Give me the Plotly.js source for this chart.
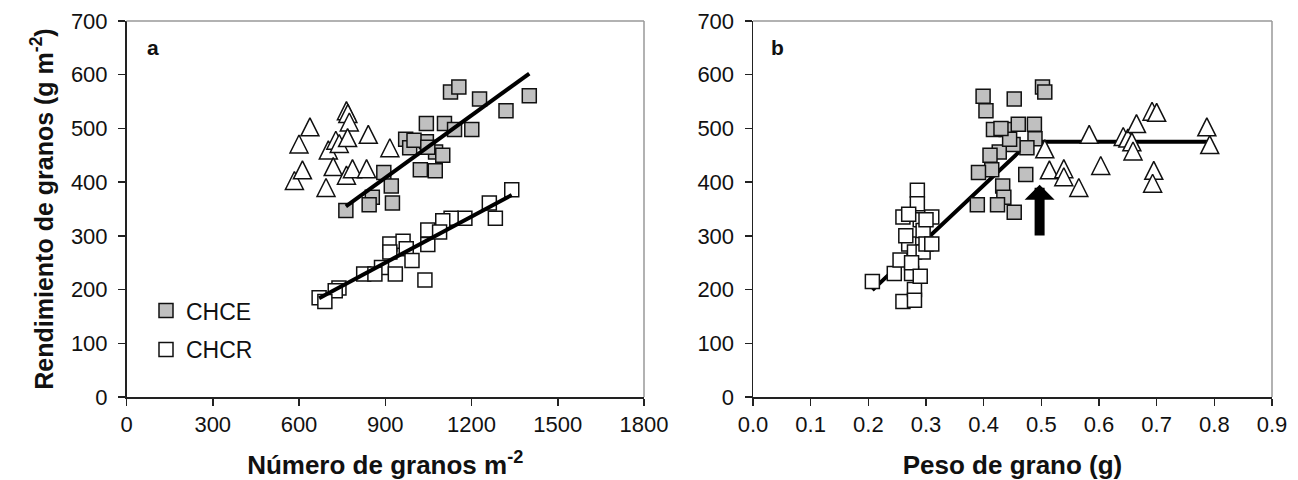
<!DOCTYPE html>
<html><head><meta charset="utf-8">
<script src="https://cdn.plot.ly/plotly-3.0.1.min.js"></script>
<style>body{margin:0;background:#fff}#c{width:1298px;height:480px}</style>
</head><body><div id="c"></div><script>
// ---------- Panel a: Número de granos m-2 vs rendimiento ----------
var a_chce_x = [1127, 1156, 1228, 1401, 1320, 1043, 1106, 1141, 1201, 971, 985, 1043, 1075, 1100, 895, 921, 1022, 1074, 855, 844, 925, 763, 1000, 1048];
var a_chce_y = [568, 577, 555, 561, 533, 509, 509, 498, 498, 480, 464, 475, 456, 450, 418, 393, 423, 421, 372, 358, 361, 347, 478, 465];
var a_chcr_x = [1340, 1262, 1283, 1177, 1129, 1100, 1048, 1048, 1089, 916, 962, 973, 916, 993, 887, 935, 825, 864, 1038, 739, 726, 670, 690];
var a_chcr_y = [386, 361, 333, 333, 333, 328, 311, 284, 307, 285, 290, 276, 270, 254, 241, 229, 229, 229, 218, 203, 198, 185, 178];
var a_tri_x = [584, 600, 612, 638, 694, 702, 719, 728, 740, 765, 765, 770, 775, 769, 786, 835, 841, 916];
var a_tri_y = [403, 471, 423, 503, 390, 460, 429, 478, 472, 413, 533, 528, 512, 483, 425, 425, 489, 464];
var a_fit_chce_x = [763, 1401];
var a_fit_chce_y = [355, 602];
var a_fit_chcr_x = [670, 1340];
var a_fit_chcr_y = [184, 376];

// ---------- Panel b: Peso de grano vs rendimiento ----------
var b_chce_x = [0.399, 0.404, 0.453, 0.502, 0.506, 0.417, 0.439, 0.460, 0.488, 0.489, 0.475, 0.451, 0.427, 0.411, 0.414, 0.391, 0.473, 0.433, 0.435, 0.389, 0.424, 0.453, 0.445, 0.430];
var b_chce_y = [560, 533, 555, 577, 568, 498, 498, 508, 508, 481, 464, 470, 456, 450, 423, 418, 414, 393, 372, 358, 358, 344, 480, 500];
var b_chcr_x = [0.207, 0.245, 0.255, 0.260, 0.260, 0.270, 0.275, 0.280, 0.280, 0.285, 0.285, 0.290, 0.295, 0.295, 0.300, 0.310, 0.310, 0.275, 0.280, 0.265, 0.290, 0.270, 0.300];
var b_chcr_y = [215, 230, 255, 335, 178, 285, 230, 200, 270, 385, 360, 330, 310, 270, 285, 335, 285, 250, 180, 300, 225, 340, 330];
var b_tri_x = [0.506, 0.514, 0.539, 0.539, 0.565, 0.583, 0.603, 0.642, 0.650, 0.657, 0.659, 0.665, 0.695, 0.693, 0.787, 0.792, 0.692, 0.700];
var b_tri_y = [462, 423, 425, 410, 390, 489, 431, 485, 482, 475, 458, 509, 422, 398, 503, 470, 532, 530];
var b_fit_x = [0.207, 0.48, 0.79];
var b_fit_y = [199, 475, 475];
var arrow_x = 0.497, arrow_tail = 298, arrow_tip = 395;

var xTicksA = [0, 300, 600, 900, 1200, 1500, 1800];
var xTicksB = [0.0, 0.1, 0.2, 0.3, 0.4, 0.5, 0.6, 0.7, 0.8, 0.9];
var yTicks = [0, 100, 200, 300, 400, 500, 600, 700];

var FONT = 'Liberation Sans, Arial, sans-serif';
var GRAY = '#c0c0c0';
var SQ = 14, TRI = 18;
var plotH = 376;
var triShift = (TRI / 2) * 700 / plotH;

function sq(x, y, fill, name, xa, ya, legend, grp) {
  return {x: x, y: y, type: 'scatter', mode: 'markers', name: name, xaxis: xa, yaxis: ya,
    showlegend: legend, legendgroup: grp,
    marker: {symbol: 'square', size: SQ, color: fill, line: {color: '#111', width: 1.5}}};
}
function tri(x, y, xa, ya) {
  return {x: x, y: y, type: 'scatter', mode: 'markers', xaxis: xa, yaxis: ya, showlegend: false,
    marker: {symbol: 'arrow-up', size: TRI, color: '#fff', line: {color: '#111', width: 1.5}}};
}
function ln(x, y, xa, ya) {
  return {x: x, y: y, type: 'scatter', mode: 'lines', xaxis: xa, yaxis: ya, showlegend: false,
    line: {color: '#000', width: 4}};
}

var data = [
  tri(a_tri_x, a_tri_y, 'x', 'y3'),
  sq(a_chce_x, a_chce_y, GRAY, 'CHCE', 'x', 'y', true, 'g1'),
  sq(a_chcr_x, a_chcr_y, '#fff', 'CHCR', 'x', 'y', true, 'g2'),
  ln(a_fit_chce_x, a_fit_chce_y, 'x', 'y'),
  ln(a_fit_chcr_x, a_fit_chcr_y, 'x', 'y'),
  ln(b_fit_x, b_fit_y, 'x2', 'y2'),
  tri(b_tri_x, b_tri_y, 'x2', 'y4'),
  sq(b_chcr_x, b_chcr_y, '#fff', 'CHCR', 'x2', 'y2', false, 'g2'),
  sq(b_chce_x, b_chce_y, GRAY, 'CHCE', 'x2', 'y2', false, 'g1')
];

var axBase = {showline: true, linecolor: '#222', linewidth: 1.5, ticks: 'outside', ticklen: 7,
  tickwidth: 1.5, tickcolor: '#222', showgrid: false, zeroline: false, fixedrange: true,
  tickfont: {family: FONT, size: 22, color: '#111'}};
function ax(o) { return Object.assign({}, axBase, o); }

var layout = {
  width: 1298, height: 480,
  margin: {l: 0, r: 0, t: 21, b: 83},
  paper_bgcolor: '#fff', plot_bgcolor: '#fff',
  font: {family: FONT, color: '#111'},
  xaxis: ax({domain: [126.5/1298, 644/1298], range: [0, 1800], tickvals: xTicksA, anchor: 'y',
    title: {text: '<b>Número de granos m<sup>-2</sup></b>', font: {family: FONT, size: 26, color: '#111'}, standoff: 20}}),
  yaxis: ax({domain: [0, 1], range: [0, 700], tickvals: yTicks, anchor: 'x', ticklabelstandoff: 6,
    title: {text: '<b>Rendimiento de granos (g m<sup>-2</sup>)</b>', font: {family: FONT, size: 25, color: '#111'}, standoff: 10}}),
  yaxis3: {overlaying: 'y', anchor: 'x', range: [-triShift, 700 - triShift], visible: false, fixedrange: true},
  xaxis2: ax({domain: [753/1298, 1272/1298], range: [0, 0.9], tickvals: xTicksB, tickformat: '.1f', anchor: 'y2',
    title: {text: '<b>Peso de grano (g)</b>', font: {family: FONT, size: 26, color: '#111'}, standoff: 20}}),
  yaxis2: ax({domain: [0, 1], range: [0, 700], tickvals: yTicks, anchor: 'x2', ticklabelstandoff: 6}),
  yaxis4: {overlaying: 'y2', anchor: 'x2', range: [-triShift, 700 - triShift], visible: false, fixedrange: true},
  showlegend: true,
  legend: {x: 146/1298, y: 0.287, xanchor: 'left', yanchor: 'top', bgcolor: 'rgba(0,0,0,0)',
    font: {family: FONT, size: 23, color: '#111'}, traceorder: 'grouped', tracegroupgap: 6},
  shapes: [
    {type: 'line', xref: 'x domain', yref: 'y domain', x0: 0, x1: 1, y0: 1, y1: 1, line: {color: '#999', width: 1.5}},
    {type: 'line', xref: 'x domain', yref: 'y domain', x0: 1, x1: 1, y0: 0, y1: 1, line: {color: '#999', width: 1.5}},
    {type: 'line', xref: 'x2 domain', yref: 'y2 domain', x0: 0, x1: 1, y0: 1, y1: 1, line: {color: '#999', width: 1.5}},
    {type: 'line', xref: 'x2 domain', yref: 'y2 domain', x0: 1, x1: 1, y0: 0, y1: 1, line: {color: '#999', width: 1.5}}
  ],
  annotations: [
    {text: '<b>a</b>', xref: 'x domain', yref: 'y domain', x: 0.035, y: 0.93, xanchor: 'left', yanchor: 'middle',
      showarrow: false, font: {family: FONT, size: 21, color: '#111'}},
    {text: '<b>b</b>', xref: 'x2 domain', yref: 'y2 domain', x: 0.03, y: 0.93, xanchor: 'left', yanchor: 'middle',
      showarrow: false, font: {family: FONT, size: 21, color: '#111'}},
    {text: '', xref: 'x2', yref: 'y2', axref: 'x2', ayref: 'y2', x: arrow_x, y: arrow_tip, ax: arrow_x, ay: arrow_tail,
      showarrow: true, arrowhead: 1, arrowwidth: 10, arrowsize: 0.5, arrowcolor: '#000'}
  ]
};

Plotly.newPlot('c', data, layout, {displayModeBar: false, staticPlot: true});
</script></body></html>
